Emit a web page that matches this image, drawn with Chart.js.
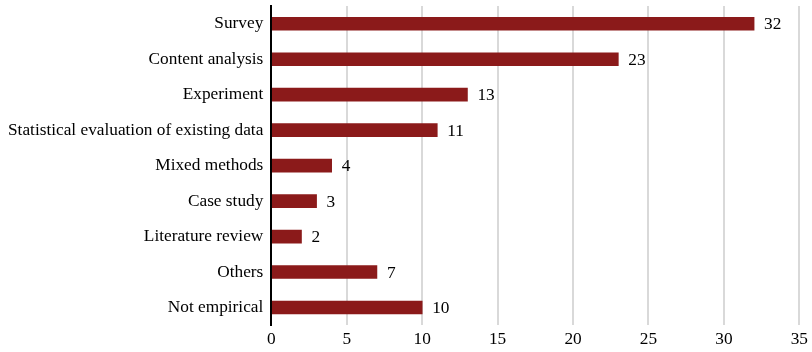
<!DOCTYPE html>
<html>
<head>
<meta charset="utf-8">
<script src="https://cdn.jsdelivr.net/npm/chart.js@4"></script>
<style>
  html, body { margin: 0; padding: 0; background: #fff; }
  #wrap { width: 812px; height: 352px; }
</style>
</head>
<body>
<div id="wrap"><canvas id="chart"></canvas></div>
<script>
var categories = ['Survey', 'Content analysis', 'Experiment', 'Statistical evaluation of existing data',
  'Mixed methods', 'Case study', 'Literature review', 'Others', 'Not empirical'];
var counts = [32, 23, 13, 11, 4, 3, 2, 7, 10];
var xTicks = [0, 5, 10, 15, 20, 25, 30, 35];

var barColor = '#8b1a1a';
var fontFamily = '"Liberation Serif", "Times New Roman", serif';
var fontSize = 17.3;

// write the count just right of each bar
var valueLabels = {
  id: 'valueLabels',
  afterDatasetsDraw: function(chart) {
    var ctx = chart.ctx;
    var meta = chart.getDatasetMeta(0);
    ctx.save();
    ctx.font = fontSize + 'px ' + fontFamily;
    ctx.fillStyle = '#000';
    ctx.textAlign = 'left';
    ctx.textBaseline = 'middle';
    meta.data.forEach(function(bar, i) {
      ctx.fillText(String(counts[i]), bar.x + 10, bar.y + 1);
    });
    ctx.restore();
  }
};

new Chart(document.getElementById('chart'), {
  type: 'bar',
  data: {
    labels: categories,
    datasets: [{
      data: counts,
      backgroundColor: barColor,
      barThickness: 13,
      borderWidth: 0
    }]
  },
  options: {
    indexAxis: 'y',
    responsive: true,
    maintainAspectRatio: false,
    animation: false,
    layout: { padding: { top: 6, right: 2, bottom: -2, left: 0 } },
    plugins: {
      legend: { display: false },
      tooltip: { enabled: false }
    },
    scales: {
      x: {
        min: 0,
        max: 35,
        afterBuildTicks: function(axis) {
          axis.ticks = xTicks.map(function(v) { return { value: v }; });
        },
        grid: {
          color: function(c) { return c.tick && c.tick.value === 0 ? 'rgba(0,0,0,0)' : '#d9d9d9'; },
          lineWidth: 2,
          drawTicks: false
        },
        border: { display: false },
        ticks: {
          color: '#000',
          padding: 4,
          maxRotation: 0,
          font: { family: fontFamily, size: fontSize }
        }
      },
      y: {
        // labels sit mid-band, so no extra room is needed above or below
        afterFit: function(axis) {
          axis.paddingTop = 0;
          axis.paddingBottom = 0;
        },
        grid: { display: false, drawTicks: false },
        border: { display: true, color: '#000', width: 2 },
        ticks: {
          color: '#000',
          padding: 8,
          font: { family: fontFamily, size: fontSize }
        }
      }
    }
  },
  plugins: [valueLabels]
});
</script>
</body>
</html>
